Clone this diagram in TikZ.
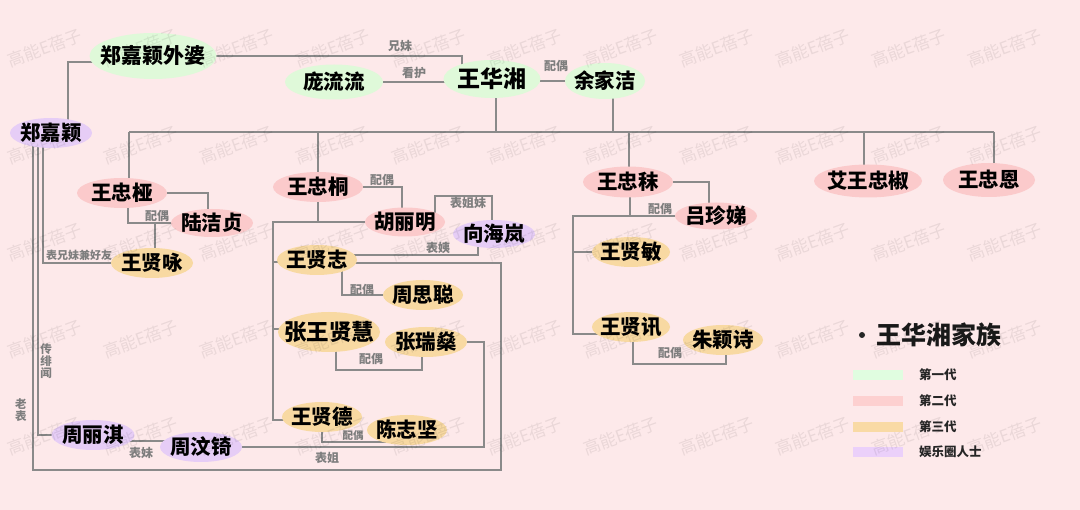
\documentclass[tikz,border=0pt]{standalone}
\usepackage{fontspec}
\setmainfont{Noto Sans CJK SC}
\usetikzlibrary{shapes.geometric}
\definecolor{bgc}{HTML}{FDE9EA}
\definecolor{gone}{HTML}{DFF9D9}
\definecolor{ctwo}{HTML}{FBCACB}
\definecolor{cthree}{HTML}{F8D9A2}
\definecolor{cpur}{HTML}{E6CDF6}
\definecolor{lgone}{HTML}{E0FDE0}
\definecolor{lgtwo}{HTML}{FDD0D0}
\definecolor{lgthree}{HTML}{F9DAA5}
\definecolor{lgpur}{HTML}{EBD0FA}
\definecolor{linec}{HTML}{8A8A8A}
\definecolor{labc}{HTML}{7E7E7E}
\pgfdeclarelayer{back}
\pgfdeclarelayer{wires}
\pgfdeclarelayer{marks}
\pgfsetlayers{back,wires,main,marks}
\tikzset{
  person/.style n args={3}{ellipse, fill=#1, minimum width=#2, minimum height=#3, inner sep=0pt},
  pname/.style={font=\bfseries\fontsize{#1}{#1}\selectfont, inner sep=0pt, text=black},
  wire/.style={draw=linec, line width=1.3pt},
  rel/.style={font=\bfseries\fontsize{12}{12}\selectfont, text=labc, inner sep=0pt},
  vrel/.style={font=\bfseries\fontsize{11.5}{12}\selectfont, text=labc, inner sep=0pt, align=center},
  wmk/.style={font=\fontsize{17}{17}\selectfont, text=black, opacity=0.075, rotate=20, inner sep=0pt},
  swatch/.style={fill=#1, minimum width=50pt, minimum height=10pt, inner sep=0pt},
  legtext/.style={font=\bfseries\fontsize{12.5}{13}\selectfont, text=black!85, anchor=west, inner sep=0pt},
}
\newcommand\pers[7]{\node[person={#4}{#5pt}{#6pt}, label={[pname=#7]center:#3}] (#1) at (#2) {};}
\begin{document}
\begin{tikzpicture}[x=1pt,y=-1pt]
\begin{pgfonlayer}{back}
\fill[bgc] (0,0) rectangle (1080,510);
\end{pgfonlayer}
\useasboundingbox (0,0) rectangle (1080,510);

% generation 1
\pers{wp}{153,56}{郑嘉颖外婆}{gone}{127}{46}{21}
\pers{pll}{334,82}{庞流流}{gone}{98}{35}{20.5}
\pers{whx}{492,79}{王华湘}{gone}{97}{38}{23}
\pers{yjj}{605,81}{余家洁}{gone}{80}{36}{20.5}
% entertainment
\pers{zjy}{51,133}{郑嘉颖}{cpur}{82}{30}{20.5}
\pers{xhl}{494,234}{向海岚}{cpur}{82}{28}{20.5}
\pers{zlq}{93,435}{周丽淇}{cpur}{83}{30}{20.5}
\pers{zwq}{201,447}{周汶锜}{cpur}{82}{30}{20.5}
% generation 2
\pers{wzy}{122,193}{王忠桠}{ctwo}{90}{30}{20.5}
\pers{ljz}{212,223}{陆洁贞}{ctwo}{82}{28}{20.5}
\pers{wzt}{318,187}{王忠桐}{ctwo}{90}{30}{20.5}
\pers{hlm}{405,222}{胡丽明}{ctwo}{80}{29}{20.5}
\pers{wzm}{628,182}{王忠秣}{ctwo}{90}{31}{20.5}
\pers{lzt}{716,216}{吕珍娣}{ctwo}{82}{27}{20.5}
\pers{wzj}{868,181}{艾王忠椒}{ctwo}{108}{33}{20.5}
\pers{wze}{989,180}{王忠恩}{ctwo}{92}{34}{20.5}
% generation 3
\pers{wxy}{152,263}{王贤咏}{cthree}{82}{30}{20.5}
\pers{wxz}{317,260}{王贤志}{cthree}{80}{30}{20.5}
\pers{zsc}{423,295}{周思聪}{cthree}{80}{30}{20.5}
\pers{zwxh}{329,332}{张王贤慧}{cthree}{102}{40}{22.5}
\pers{zrs}{426,342}{张瑞燊}{cthree}{82}{30}{20.5}
\pers{wxd}{322,417}{王贤德}{cthree}{80}{30}{20.5}
\pers{czj}{407,430}{陈志坚}{cthree}{80}{30}{20.5}
\pers{wxm}{631,252}{王贤敏}{cthree}{78}{30}{20.5}
\pers{wxx}{631,327}{王贤讯}{cthree}{78}{30}{20.5}
\pers{zys}{723,340}{朱颖诗}{cthree}{80}{30}{20.5}

\coordinate (busL) at (129,132);
\coordinate (busR) at (994,132);

\begin{pgfonlayer}{wires}
% generation 1
\draw[wire] ([xshift=17pt]zjy.center) |- ([yshift=-6pt]wp.center);
\draw[wire] (wp.center) -| ([xshift=-30pt]whx.center);
\draw[wire] (pll.center) -- (pll.center -| whx.center);
\draw[wire] (yjj.center) -- (yjj.center -| whx.center);
% children bus
\draw[wire] (busL) -- (busR);
\draw[wire] ([xshift=4pt]whx.center) -- ++(0,53);
\draw[wire] ([xshift=8pt]yjj.center) -- ++(0,51);
\draw[wire] ([xshift=7pt]wzy.center) -- (busL);
\draw[wire] (wzt.center) -- (wzt.center |- busL);
\draw[wire] ([xshift=1pt]wzm.center) -- ++(0,-50);
\draw[wire] ([xshift=-4pt]wzj.center) -- ++(0,-49);
\draw[wire] (busR) -- ([xshift=5pt]wze.center);
% wang zhongya family
\draw[wire] (wzy.center) -| ([xshift=-4pt]ljz.center);
\draw[wire] ([xshift=6pt]wzy.center) |- (ljz.center);
\draw[wire] ([xshift=3pt]wxy.center) -- ++(0,-41);
% wang zhongtong family
\draw[wire] (wzt.center) -| ([xshift=-3pt]hlm.center);
\draw[wire] (wzt.center) -- (wzt.center |- hlm.center);
\draw[wire] (hlm.center) -| ([xshift=-49pt,yshift=-3pt]wxd.center) -- ([yshift=-3pt]wxd.center);
\draw[wire] ([yshift=-2pt]wxz.center) -- ++(-44,0);
\draw[wire] ([yshift=3pt]zwxh.center) -- ++(-56,0);
\draw[wire] ([xshift=30pt]hlm.center) -- ++(0,-26) -| ([xshift=-2pt]xhl.center);
\draw[wire] ([xshift=-16pt]xhl.center) |- ([yshift=5pt]wxz.center);
\draw[wire] ([xshift=25pt]wxz.center) |- (zsc.center);
\draw[wire] ([xshift=7pt]zwxh.center) -- ++(0,38) -| ([xshift=-4pt]zrs.center);
\draw[wire] (wxd.center) |- ([yshift=-12pt]czj.center);
% zheng jiaying links
\draw[wire] ([xshift=-18pt]zjy.center) -- ++(0,337) -| ([xshift=184pt,yshift=-3pt]wxz.center) -- ([yshift=-3pt]wxz.center);
\draw[wire] ([xshift=-13pt]zjy.center) |- (zlq.center);
\draw[wire] ([xshift=-8pt]zjy.center) |- (wxy.center);
\draw[wire] ([yshift=-6pt]zlq.center) -- ([yshift=6pt]zwq.center);
\draw[wire] (zwq.center) -| ([xshift=58pt]zrs.center) -- (zrs.center);
% wang zhongmo family
\draw[wire] (wzm.center) -| ([xshift=-7pt]lzt.center);
\draw[wire] ([xshift=2pt]wzm.center) |- (lzt.center);
\draw[wire] (lzt.center) -| ([xshift=-58pt,yshift=-7pt]wxx.center) -- ([yshift=-7pt]wxx.center);
\draw[wire] (wxm.center) -- ++(-58,0);
\draw[wire] ([xshift=2pt]wxx.center) -- ++(0,37) -| ([xshift=3pt]zys.center);
\end{pgfonlayer}

% relation labels
\node[rel] (r1) at (400,46) {兄妹};
\node[rel] (r2) at (414,73) {看护};
\node[rel] (r3) at (556,66) {配偶};
\node[rel] (r4) at (157,216) {配偶};
\node[rel, font=\bfseries\fontsize{11}{12}\selectfont] (r5) at (79,255) {表兄妹兼好友};
\node[rel] (r6) at (382,180) {配偶};
\node[rel] (r7) at (468,203) {表姐妹};
\node[rel] (r8) at (438,248) {表姨};
\node[rel] (r9) at (362,290) {配偶};
\node[rel] (r10) at (371,359) {配偶};
\node[rel, font=\bfseries\fontsize{10.5}{11}\selectfont] (r11) at (353,436) {配偶};
\node[rel] (r12) at (327,458) {表姐};
\node[rel] (r13) at (141,453) {表妹};
\node[vrel] (r14) at (46,361) {传\\绯\\闻};
\node[vrel] (r15) at (21,410) {老\\表};
\node[rel] (r16) at (660,209) {配偶};
\node[rel] (r17) at (670,353) {配偶};

% legend
\fill[black!85] (862,335) circle (3pt);
\node[font=\bfseries\fontsize{25}{25}\selectfont, anchor=west, inner sep=0pt, text=black!90] (lt) at (876,335) {王华湘家族};
\node[swatch=lgone] (s1) at (878,375) {};
\node[swatch=lgtwo] (s2) at (878,401) {};
\node[swatch=lgthree] (s3) at (878,427) {};
\node[swatch=lgpur] (s4) at (878,452) {};
\node[legtext] (l1) at (919,375) {第一代};
\node[legtext] (l2) at (919,401) {第二代};
\node[legtext] (l3) at (919,427) {第三代};
\node[legtext] (l4) at (919,452) {娱乐圈人士};

% watermarks
\begin{pgfonlayer}{marks}
\foreach \i in {0,...,10}{
  \foreach \j in {0,...,4}{
    \node[wmk] (wm-\i-\j) at ({45+96*\i},{48+97*\j}) {高能E蓓子};
  }
}
\end{pgfonlayer}
\end{tikzpicture}
\end{document}
